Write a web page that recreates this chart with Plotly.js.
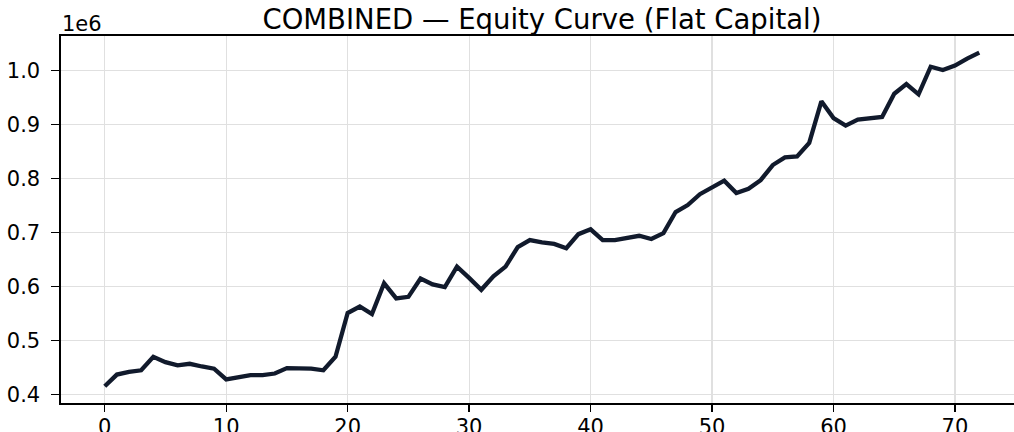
<!DOCTYPE html>
<html>
<head>
<meta charset="utf-8">
<script src="https://cdn.plot.ly/plotly-3.0.1.min.js"></script>
<style>
  html, body { margin: 0; padding: 0; overflow: hidden; background: #fff; }
</style>
</head>
<body>
<div id="chart"></div>
<script>
// trade index vs equity (flat capital)
const tradeIdx = [];
for (let i = 0; i <= 72; i++) tradeIdx.push(i);

const equity = [
  415300, 437000, 442000, 445000, 470000, 460000, 454000, 457000, 452000, 448000,
  428000, 433000, 436000, 436000, 439000, 449000, 448000, 448000, 445000, 470000,
  551000, 563000, 549000, 606000, 578000, 581000, 615000, 604000, 599000, 637000,
  616000, 594000, 619000, 637000, 673000, 686000, 682000, 679000, 671000, 697000,
  706000, 686000, 686000, 691000, 694000, 688000, 699000, 738000, 751000, 771000,
  783000, 796000, 773000, 781000, 797000, 825000, 839000, 841000, 866000, 943000,
  912000, 898000, 909000, 911000, 914000, 957000, 975000, 956000, 1007000, 1001000,
  1009000, 1022000, 1033000
];

const yTicks = [400000, 500000, 600000, 700000, 800000, 900000, 1000000];
const yTickText = ['0.4', '0.5', '0.6', '0.7', '0.8', '0.9', '1.0'];
const xTicks = [0, 10, 20, 30, 40, 50, 60, 70];

const font = 'DejaVu Sans, sans-serif';

const data = [{
  x: tradeIdx,
  y: equity,
  type: 'scatter',
  mode: 'lines',
  line: { color: '#111a2c', width: 4.3 },
  hoverinfo: 'skip'
}];

const layout = {
  width: 1030,
  height: 432,
  margin: { l: 61, r: 7, t: 36, b: 29 },
  paper_bgcolor: '#fff',
  plot_bgcolor: '#fff',
  showlegend: false,
  font: { family: font, size: 21, color: '#000' },
  title: {
    text: 'COMBINED — Equity Curve (Flat Capital)',
    font: { family: font, size: 27.5, color: '#000' },
    xref: 'paper', x: 0.5, xanchor: 'center',
    yref: 'container', y: 1 - 19 / 432, yanchor: 'middle'
  },
  xaxis: {
    range: [-3.6, 75.6],
    tickvals: xTicks,
    ticks: 'outside', ticklen: 7, tickwidth: 1.3, tickcolor: '#000',
    ticklabelstandoff: -3,
    showline: true, linecolor: '#000', linewidth: 1.6, mirror: true,
    showgrid: true, gridcolor: '#e0e0e0', gridwidth: 1.2,
    zeroline: false,
    tickfont: { family: font, size: 21, color: '#000' }
  },
  yaxis: {
    range: [384400, 1063900],
    tickvals: yTicks,
    ticktext: yTickText,
    ticks: 'outside', ticklen: 8, tickwidth: 1.3, tickcolor: '#000',
    ticklabelstandoff: 7,
    showline: true, linecolor: '#000', linewidth: 1.6, mirror: true,
    showgrid: true, gridcolor: '#e0e0e0', gridwidth: 1.2,
    zeroline: false,
    tickfont: { family: font, size: 21, color: '#000' }
  },
  annotations: [{
    text: '1e6',
    xref: 'paper', yref: 'paper',
    x: 0, y: 1, xanchor: 'left', yanchor: 'bottom',
    xshift: -1, yshift: -2,
    showarrow: false,
    font: { family: font, size: 21, color: '#000' }
  }]
};

Plotly.newPlot('chart', data, layout, { displayModeBar: false, staticPlot: true });
</script>
</body>
</html>
